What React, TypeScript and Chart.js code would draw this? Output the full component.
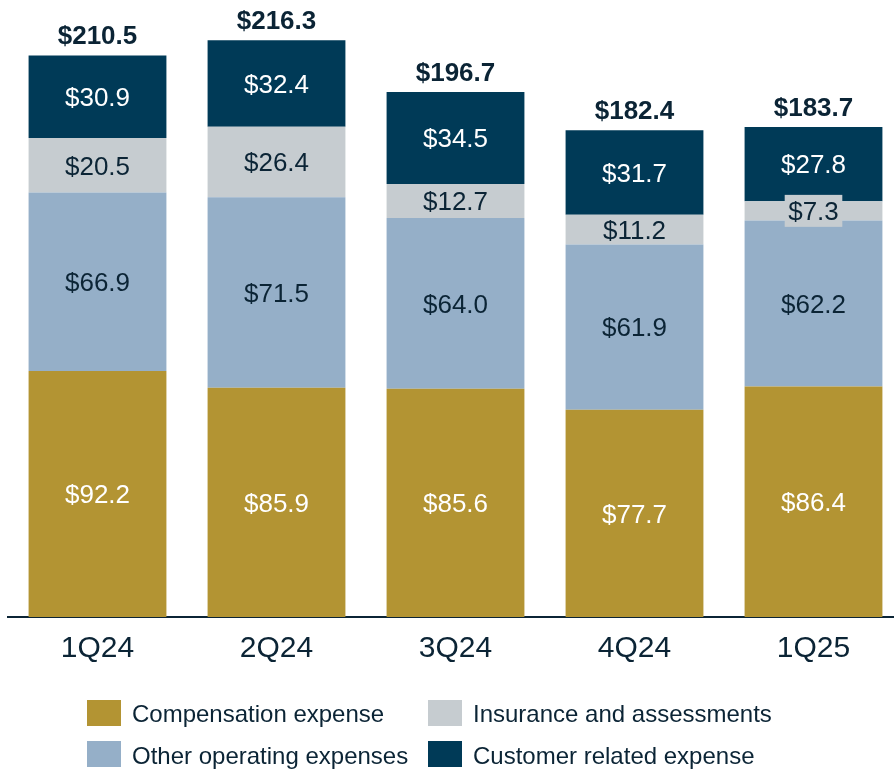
import React, { useEffect, useRef } from "react";
import { Chart, registerables } from "chart.js";

Chart.register(...registerables);

const categories = ["1Q24", "2Q24", "3Q24", "4Q24", "1Q25"];
const compensation = [92.2, 85.9, 85.6, 77.7, 86.4];
const otherOperating = [66.9, 71.5, 64.0, 61.9, 62.2];
const insurance = [20.5, 26.4, 12.7, 11.2, 7.3];
const customerRelated = [30.9, 32.4, 34.5, 31.7, 27.8];
const totals = [210.5, 216.3, 196.7, 182.4, 183.7];

const seriesNames = [
  "Compensation expense",
  "Other operating expenses",
  "Insurance and assessments",
  "Customer related expense",
];
const seriesColors = ["#B39433", "#95AFC8", "#C6CCD0", "#003A57"];
const labelColors = ["#FFFFFF", "#0B2435", "#0B2435", "#FFFFFF"];
const DARK = "#0B2435";
const FONT = "'Liberation Sans', Arial, sans-serif";

const CANVAS_W = 903;
const CANVAS_H = 771;

const labelsPlugin = {
  id: "segLabels",
  afterDatasetsDraw(chart: any) {
    const ctx = chart.ctx;
    ctx.save();
    ctx.textAlign = "center";
    ctx.textBaseline = "alphabetic";
    chart.data.datasets.forEach((ds: any, di: number) => {
      const meta = chart.getDatasetMeta(di);
      meta.data.forEach((bar: any, i: number) => {
        const v = ds.data[i];
        const top = bar.y;
        const bottom = bar.base;
        const h = Math.abs(bottom - top);
        const cy = (top + bottom) / 2;
        const text = "$" + v.toFixed(1);
        ctx.font = `26px ${FONT}`;
        if (di === 2 && h < 26) {
          const w = ctx.measureText(text).width + 7;
          ctx.fillStyle = seriesColors[2];
          ctx.fillRect(bar.x - w / 2, cy - 16, w, 32);
        }
        ctx.fillStyle = labelColors[di];
        ctx.fillText(text, bar.x, cy + 9.3);
      });
    });
    const lastMeta = chart.getDatasetMeta(chart.data.datasets.length - 1);
    ctx.font = `bold 26px ${FONT}`;
    ctx.fillStyle = DARK;
    lastMeta.data.forEach((bar: any, i: number) => {
      ctx.fillText("$" + totals[i].toFixed(1), bar.x, bar.y - 11);
    });
    ctx.restore();
  },
};

const legendPlugin = {
  id: "customLegend",
  afterDraw(chart: any) {
    const ctx = chart.ctx;
    ctx.save();
    const items = [
      { i: 0, bx: 87, by: 700, tx: 132, ty: 722 },
      { i: 2, bx: 428, by: 700, tx: 473, ty: 722 },
      { i: 1, bx: 87, by: 741, tx: 132, ty: 764 },
      { i: 3, bx: 428, by: 741, tx: 473, ty: 764 },
    ];
    ctx.font = `24px ${FONT}`;
    ctx.textAlign = "left";
    ctx.textBaseline = "alphabetic";
    items.forEach((it) => {
      ctx.fillStyle = seriesColors[it.i];
      ctx.fillRect(it.bx, it.by, 34, 26);
      ctx.fillStyle = DARK;
      ctx.fillText(seriesNames[it.i], it.tx, it.ty);
    });
    ctx.restore();
  },
};

export default function App() {
  const ref = useRef<HTMLCanvasElement>(null);
  useEffect(() => {
    if (!ref.current) return;
    const seriesData = [compensation, otherOperating, insurance, customerRelated];
    const chart = new Chart(ref.current, {
      type: "bar",
      data: {
        labels: categories,
        datasets: seriesData.map((d, i) => ({
          label: seriesNames[i],
          data: d,
          backgroundColor: seriesColors[i],
          borderWidth: 0,
          categoryPercentage: 1,
          barPercentage: 0.77,
        })),
      },
      options: {
        responsive: false,
        animation: false,
        devicePixelRatio: 1,
        layout: { padding: { top: 0, bottom: 94, left: 8, right: 0 } },
        plugins: { legend: { display: false }, tooltip: { enabled: false } },
        scales: {
          x: {
            stacked: true,
            grid: { display: false, drawTicks: false },
            border: { display: true, color: DARK, width: 2 },
            ticks: { color: DARK, font: { family: FONT, size: 30 }, padding: 14 },
            afterFit: (scale: any) => {
              scale.height = 60;
            },
          },
          y: {
            stacked: true,
            display: false,
            min: 0,
            max: 231.3,
          },
        },
      },
      plugins: [labelsPlugin, legendPlugin],
    });
    return () => chart.destroy();
  }, []);
  return (
    <div
      style={{
        position: "fixed",
        top: 0,
        left: 0,
        width: 894,
        height: CANVAS_H,
        overflow: "hidden",
        background: "#FFFFFF",
      }}
    >
      <canvas ref={ref} width={CANVAS_W} height={CANVAS_H} style={{ display: "block" }} />
    </div>
  );
}
